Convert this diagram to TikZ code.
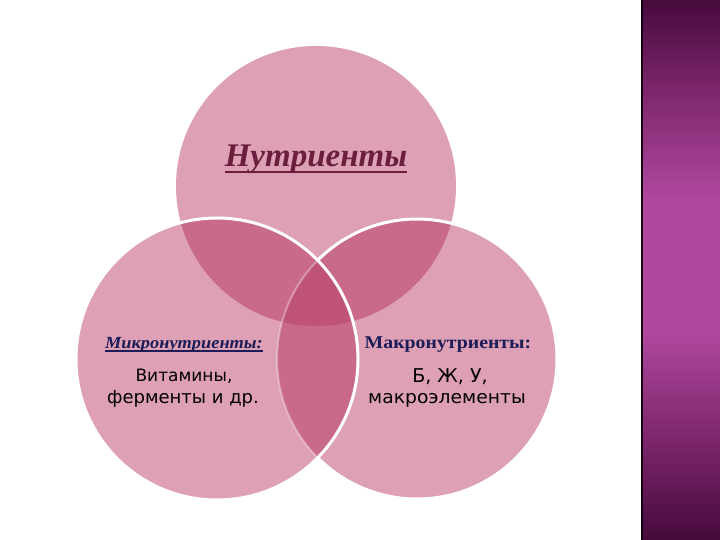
\documentclass[tikz,border=0pt]{standalone}
\usepackage{fontspec}
\setmainfont{Liberation Serif}
\newfontfamily\sansf{DejaVu Sans}
\definecolor{banddark}{RGB}{70,10,60}
\definecolor{bandsemi}{RGB}{125,38,108}
\definecolor{bandmid}{RGB}{176,72,158}
\pgfdeclareverticalshading{bandshade}{100bp}{color(0bp)=(banddark); color(25bp)=(banddark); color(34.3bp)=(bandsemi); color(44.4bp)=(bandmid); color(56.5bp)=(bandmid); color(66.7bp)=(bandsemi); color(75bp)=(banddark); color(100bp)=(banddark)}
\begin{document}
\begin{tikzpicture}[x=1pt,y=-1pt,
  lbl/.style={inner sep=0pt,anchor=base},
  ulin/.style={line width=1.3pt}]
\definecolor{basepink}{RGB}{221,160,180}
\definecolor{pairpink}{RGB}{200,106,136}
\definecolor{tripink}{RGB}{192,84,120}
\definecolor{titlecol}{RGB}{107,30,62}
\definecolor{navy}{RGB}{28,28,88}
\useasboundingbox (0,0) rectangle (720,540);
\fill[white] (0,0) rectangle (720,540);
% band
\shade[shading=bandshade] (641,0) rectangle (720,540);
\fill[black!70!banddark] (641,0) rectangle (643,540);
% circles
\coordinate (ct) at (316,186);
\coordinate (cl) at (217,359);
\coordinate (cr) at (417,359);
\fill[basepink] (ct) circle[radius=140];
\fill[basepink] (cr) circle[radius=140];
\fill[basepink] (cl) circle[radius=141];
\begin{scope}
  \clip (ct) circle[radius=140];
  \fill[pairpink] (cl) circle[radius=141];
  \fill[pairpink] (cr) circle[radius=140];
\end{scope}
\begin{scope}
  \clip (cl) circle[radius=141];
  \fill[pairpink] (cr) circle[radius=140];
\end{scope}
\begin{scope}
  \clip (cl) circle[radius=141];
  \clip (cr) circle[radius=140];
  \fill[tripink] (ct) circle[radius=140];
\end{scope}
% right circle outline: strong outside the left circle, faint inside it
\draw[white,line width=3pt] ([shift={(135.2:140)}]cr) arc[start angle=135.2,end angle=-135.2,radius=140];
\draw[white,opacity=0.35,line width=2pt] ([shift={(135.2:140)}]cr) arc[start angle=135.2,end angle=224.8,radius=140];
\draw[white,line width=3pt] (cl) circle[radius=141];
% texts
\node[lbl,text=titlecol,font=\fontsize{33}{36}\selectfont\bfseries\itshape] (title) at (316,167) {Нутриенты};
\draw[titlecol,line width=2pt] ([yshift=-5pt]title.base west) -- ([yshift=-5pt]title.base east);
\node[lbl,text=navy,xscale=1.08,font=\fontsize{17}{19}\selectfont\bfseries\itshape] (micro) at (184,348) {Микронутриенты:};
\draw[navy,ulin] ([yshift=-3pt]micro.base west) -- ([yshift=-3pt]micro.base east);
\node[lbl,text=navy,xscale=1.1,font=\fontsize{18}{20}\selectfont\bfseries] (macro) at (448,348) {Макронутриенты:};
\node[lbl,font=\fontsize{17}{19}\sansf] (l1) at (184,381) {Витамины,};
\node[lbl,font=\fontsize{18}{20}\sansf] (l2) at (183,403) {ферменты и др.};
\node[lbl,font=\fontsize{19}{21}\sansf] (r1) at (450,382) {Б, Ж, У,};
\node[lbl,font=\fontsize{18}{20}\sansf,xscale=1.04] (r2) at (447,403) {макроэлементы};
\end{tikzpicture}
\end{document}
